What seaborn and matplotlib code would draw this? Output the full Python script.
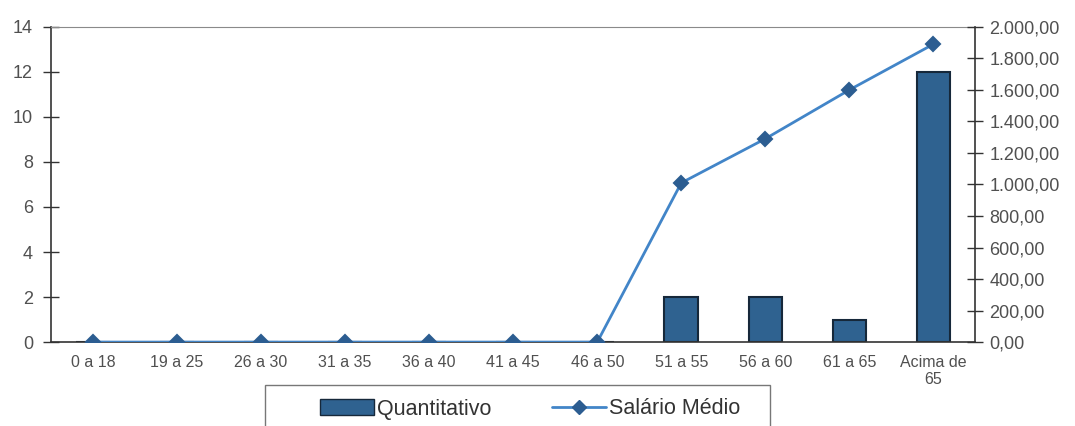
import seaborn as sns
import matplotlib.pyplot as plt
import numpy as np
from matplotlib.ticker import FuncFormatter, FixedLocator
from matplotlib.lines import Line2D
from matplotlib.patches import Patch, Rectangle

CATEGORIES = ['0 a 18', '19 a 25', '26 a 30', '31 a 35', '36 a 40', '41 a 45',
              '46 a 50', '51 a 55', '56 a 60', '61 a 65', 'Acima de\n65']
QUANTITATIVO = [0, 0, 0, 0, 0, 0, 0, 2, 2, 1, 12]
SALARIO_MEDIO = [0, 0, 0, 0, 0, 0, 0, 1010, 1290, 1600, 1890]

BAR_COLOR = '#2f6290'
LINE_COLOR = '#4285c8'
MARKER_COLOR = '#2c5d91'
TEXT_COLOR = '#505050'

sns.set_style('white')
plt.rcParams['font.family'] = ['Liberation Sans', 'DejaVu Sans']


def br_format(v, pos):
    # 2000 -> 2.000,00
    s = f'{v:,.2f}'
    return s.replace(',', 'X').replace('.', ',').replace('X', '.')


fig = plt.figure(figsize=(10.75, 4.26), dpi=100)
ax = fig.add_axes([0.0474, 0.197, 0.86, 0.740])

sns.barplot(x=CATEGORIES, y=QUANTITATIVO, ax=ax, color=BAR_COLOR, saturation=1,
            width=0.4, edgecolor='#16283a', linewidth=1.5)
ax.set_ylim(0, 14)
ax.set_yticks(np.arange(0, 15, 2))
ax.set_xlim(-0.5, len(CATEGORIES) - 0.5)

# category ticks without marks, boundary ticks as minor
ax.tick_params(axis='x', which='major', length=0, pad=9, labelsize=11.5, labelcolor=TEXT_COLOR)
ax.xaxis.set_minor_locator(FixedLocator(np.arange(0.5, len(CATEGORIES) - 1, 1)))
ax.tick_params(axis='x', which='minor', direction='inout', length=10, width=1, color='#333333')
ax.tick_params(axis='y', direction='inout', length=12, width=1, color='#333333',
               labelsize=13, labelcolor=TEXT_COLOR, pad=7)

for side in ['left', 'bottom']:
    ax.spines[side].set_color('#333333')
    ax.spines[side].set_linewidth(1.2)
ax.spines['top'].set_color('#8a8a8a')
ax.spines['right'].set_visible(False)

ax2 = ax.twinx()
sns.pointplot(x=CATEGORIES, y=SALARIO_MEDIO, ax=ax2, color=LINE_COLOR, markers='D',
              linestyles='-', linewidth=2, markersize=7,
              markerfacecolor=MARKER_COLOR, markeredgecolor=MARKER_COLOR)
ax2.set_ylim(0, 2000)
ax2.set_yticks(np.arange(0, 2001, 200))
ax2.yaxis.set_major_formatter(FuncFormatter(br_format))
ax2.set_xlim(-0.5, len(CATEGORIES) - 0.5)
ax2.tick_params(axis='y', direction='inout', length=12, width=1, color='#333333',
                labelsize=13, labelcolor=TEXT_COLOR, pad=4)
for side in ['left', 'top', 'bottom']:
    ax2.spines[side].set_visible(False)
ax2.spines['right'].set_color('#333333')
ax2.spines['right'].set_linewidth(1.2)
ax2.set_ylabel('')
ax.set_ylabel('')

# legend frame drawn separately so it can be wider than its contents
fig.patches.append(Rectangle((265 / 1075, -0.05), 505 / 1075, 0.05 + (426 - 385) / 426,
                             transform=fig.transFigure, facecolor='white',
                             edgecolor='#777777', linewidth=1))

handles = [
    Patch(facecolor=BAR_COLOR, edgecolor='#16283a', label='Quantitativo'),
    Line2D([0], [0], color=LINE_COLOR, lw=2, marker='D', markersize=7,
           markerfacecolor=MARKER_COLOR, markeredgecolor=MARKER_COLOR, label='Salário Médio'),
]
fig.legend(handles=handles, loc='center', bbox_to_anchor=(530 / 1075, 1 - 409 / 426), ncol=2,
           frameon=False, fontsize=15.5,
           handlelength=2.5, handletextpad=0.15, columnspacing=2.8,
           borderpad=0, labelcolor='#333333')

fig.savefig('out.png', dpi=100)
